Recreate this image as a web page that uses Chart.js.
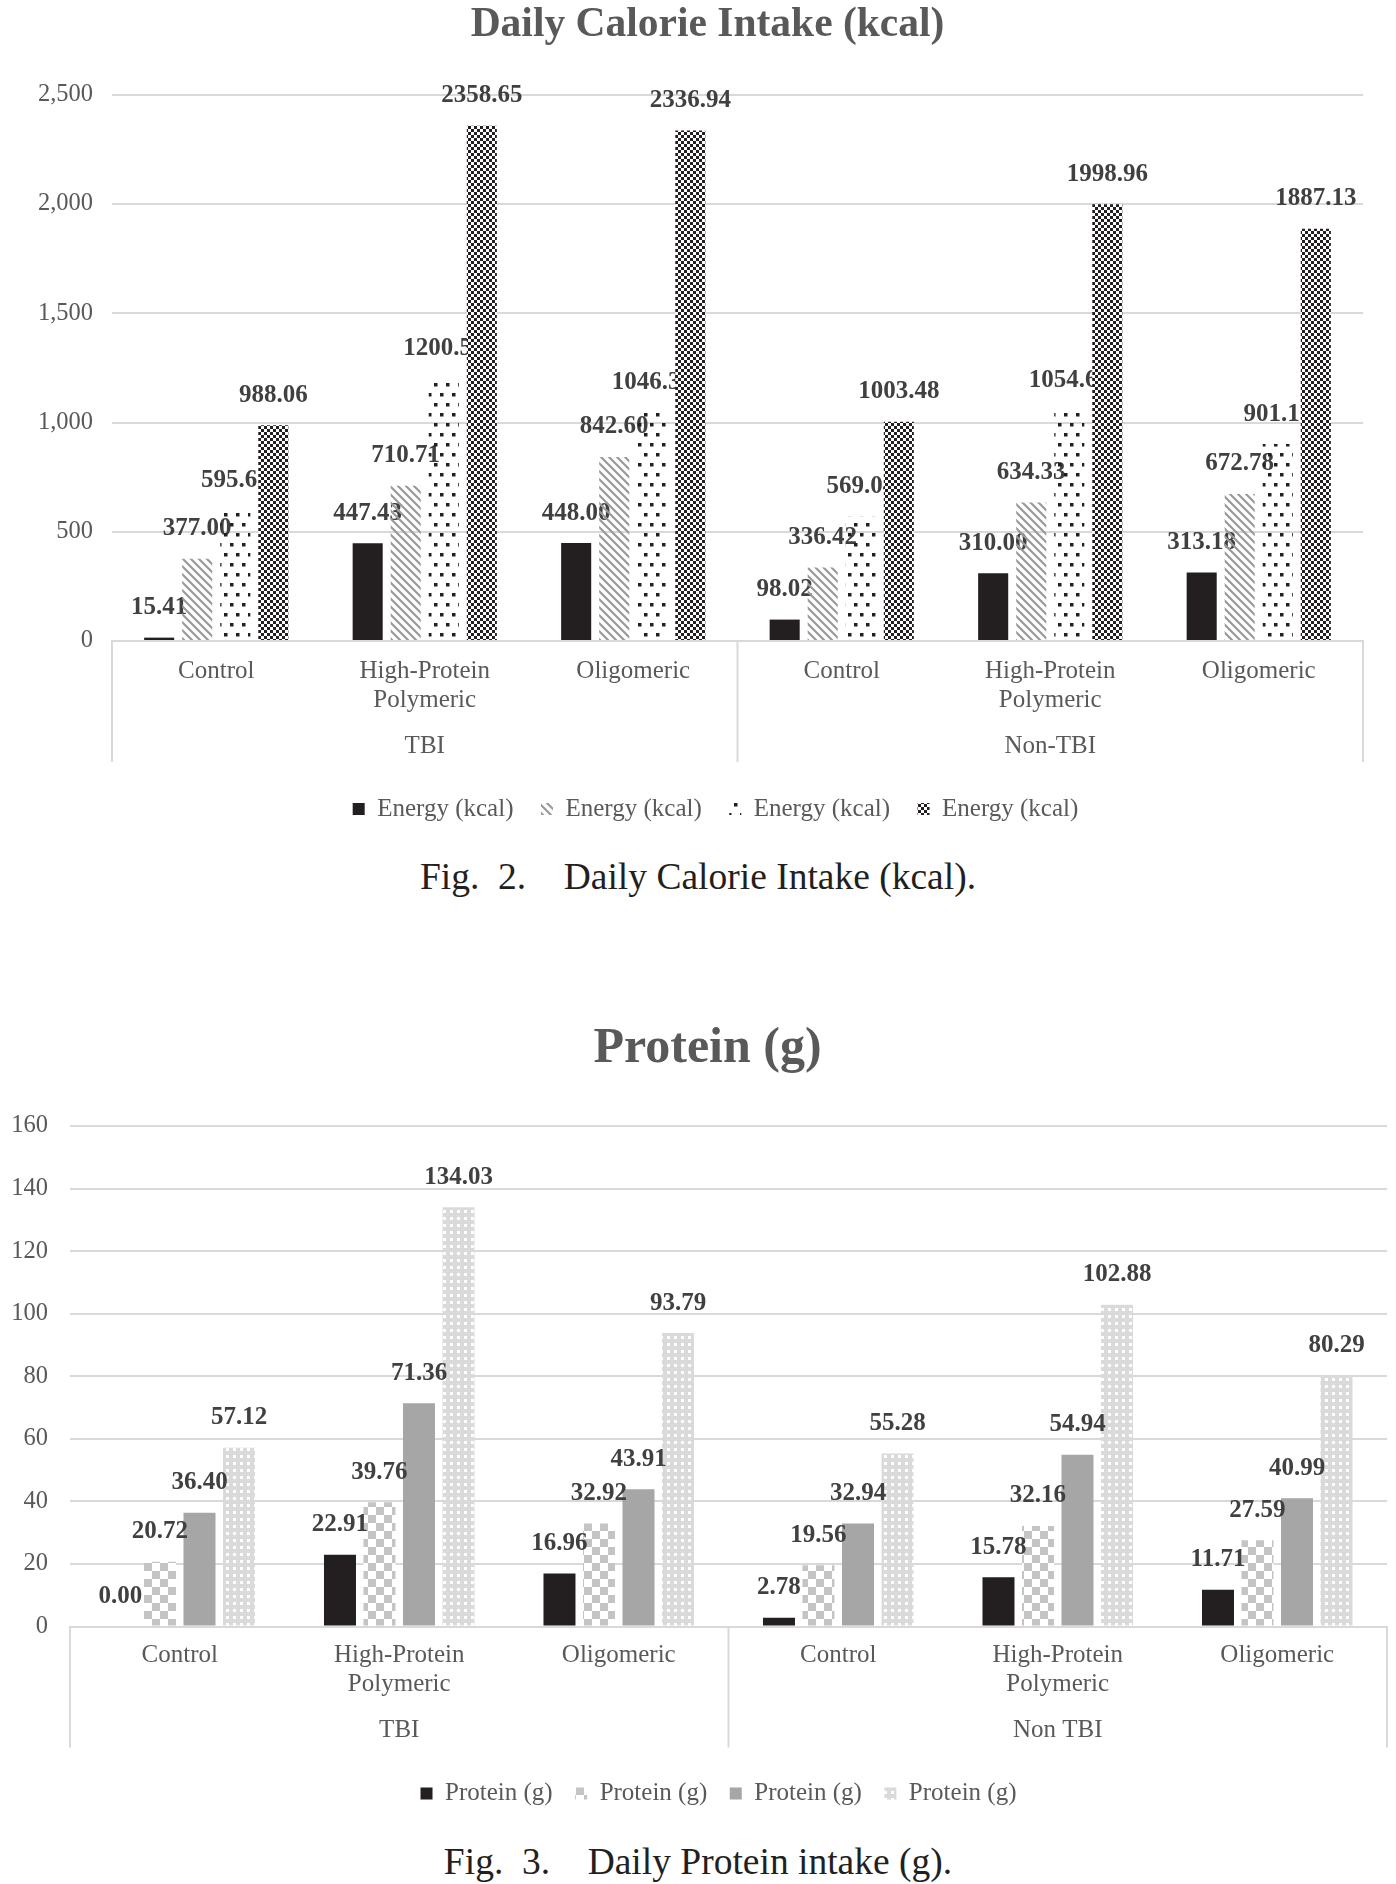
<!DOCTYPE html>
<html>
<head>
<meta charset="utf-8">
<script src="https://cdn.jsdelivr.net/npm/chart.js@4.4.1/dist/chart.umd.min.js"></script>
<style>
  body { margin: 0; background: #fff; width: 1396px; height: 1884px; position: relative; overflow: hidden; }
  .wrap { position: absolute; left: 0; width: 1396px; }
  .caption { position: absolute; left: 0; width: 1396px; text-align: center; white-space: pre;
    font-family: 'Liberation Serif', serif; font-size: 37.5px; line-height: 40px; color: #231f20; }
</style>
</head>
<body>
<div class="wrap" style="top:0px;height:840px"><canvas id="calChart" width="1396" height="840"></canvas></div>
<div class="caption" style="top:857px">Fig.  2.    Daily Calorie Intake (kcal).</div>
<div class="wrap" style="top:1019px;height:800px"><canvas id="protChart" width="1396" height="800"></canvas></div>
<div class="caption" style="top:1842px">Fig.  3.    Daily Protein intake (g).</div>
<script>
// Categories / groups
const categories = [['Control'], ['High-Protein', 'Polymeric'], ['Oligomeric'],
                    ['Control'], ['High-Protein', 'Polymeric'], ['Oligomeric']];
const calGroups = ['TBI', 'Non-TBI'];
const protGroups = ['TBI', 'Non TBI'];

// Daily calorie intake (kcal), four series
const energy1 = [15.41, 447.43, 448.00, 98.02, 310.00, 313.18];
const energy2 = [377.00, 710.71, 842.60, 336.42, 634.33, 672.78];
const energy3 = [595.65, 1200.51, 1046.34, 569.04, 1054.63, 901.17];
const energy4 = [988.06, 2358.65, 2336.94, 1003.48, 1998.96, 1887.13];

// Daily protein intake (g), four series
const protein1 = [0.00, 22.91, 16.96, 2.78, 15.78, 11.71];
const protein2 = [20.72, 39.76, 32.92, 19.56, 32.16, 27.59];
const protein3 = [36.40, 71.36, 43.91, 32.94, 54.94, 40.99];
const protein4 = [57.12, 134.03, 93.79, 55.28, 102.88, 80.29];

const calTicks = { min: 0, max: 2500, step: 500 };
const protTicks = { min: 0, max: 160, step: 20 };

const SERIF = "'Liberation Serif', 'Times New Roman', serif";
const GRID = '#d9d9d9';
const TEXT = '#595959';
const BLACK = '#231f20';

// Pattern helper
function makePattern(w, h, draw) {
  const c = document.createElement('canvas');
  c.width = w; c.height = h;
  const g = c.getContext('2d');
  draw(g, w, h);
  return g.createPattern(c, 'repeat');
}

const diagPattern = makePattern(8, 8, (g, w, h) => {
  g.strokeStyle = '#999';
  g.lineWidth = 2.2;
  g.beginPath();
  g.moveTo(-2, -2); g.lineTo(w + 2, h + 2);
  g.moveTo(w - 2, -2); g.lineTo(w + 2, 2);
  g.moveTo(-2, h - 2); g.lineTo(2, h + 2);
  g.stroke();
});
const dotPattern = makePattern(12, 20, (g) => {
  g.fillStyle = BLACK;
  g.fillRect(2, 3, 3.5, 3.5);
  g.fillRect(8, 13, 3.5, 3.5);
});
const fineChecker = makePattern(6, 6, (g) => {
  g.fillStyle = '#fff'; g.fillRect(0, 0, 6, 6);
  g.fillStyle = BLACK;
  g.fillRect(0, 0, 3, 3); g.fillRect(3, 3, 3, 3);
});
const bigChecker = makePattern(16, 16, (g) => {
  g.fillStyle = '#fff'; g.fillRect(0, 0, 16, 16);
  g.fillStyle = '#c4c4c4';
  g.fillRect(0, 0, 8, 8); g.fillRect(8, 8, 8, 8);
});
const whiteDots = makePattern(7, 7, (g) => {
  g.fillStyle = '#dadada'; g.fillRect(0, 0, 7, 7);
  g.fillStyle = '#fff';
  g.fillRect(2, 2, 3, 3);
});

// Draw series left to right with their value labels.
// In the calorie chart the next series covers earlier labels; in the protein chart labels sit on top.
const seriesWithLabels = {
  id: 'seriesWithLabels',
  beforeDatasetsDraw(chart, args, opts) {
    const ctx = chart.ctx;
    const metas = chart.getSortedVisibleDatasetMetas();
    const drawLabels = (meta) => {
      const data = chart.data.datasets[meta.index].data;
      ctx.save();
      ctx.font = 'bold 25px ' + SERIF;
      ctx.fillStyle = '#404040';
      ctx.textAlign = 'center';
      ctx.textBaseline = 'middle';
      meta.data.forEach((bar, i) => {
        ctx.fillText(data[i].toFixed(2), bar.x, bar.y - 30);
      });
      ctx.restore();
    };
    if (opts.onTop) {
      metas.forEach(m => m.controller.draw());
      metas.forEach(drawLabels);
    } else {
      metas.forEach(m => { m.controller.draw(); drawLabels(m); });
    }
    return false;
  }
};

// box lines around the two-level category axis
const groupLines = {
  id: 'groupLines',
  afterDraw(chart) {
    const x = chart.scales.x, x2 = chart.scales.x2, area = chart.chartArea;
    const mid = (x.getPixelForValue(2) + x.getPixelForValue(3)) / 2;
    const ctx = chart.ctx;
    ctx.save();
    ctx.strokeStyle = GRID;
    ctx.lineWidth = 2;
    ctx.beginPath();
    [area.left, mid, area.right].forEach(px => {
      ctx.moveTo(px, area.bottom);
      ctx.lineTo(px, x2.bottom);
    });
    ctx.stroke();
    ctx.restore();
  }
};

// the original centres title and legend a bit right of the canvas middle
const boxShift = {
  id: 'boxShift',
  afterLayout(chart, args, opts) {
    const t = chart.titleBlock, l = chart.legend;
    if (t) { t.left += opts.title; t.right += opts.title; }
    if (l) { l.left += opts.legend; l.right += opts.legend; }
  }
};

function buildChart(id, cfg) {
  const datasets = cfg.series.map((s, i) => ({
    label: cfg.seriesLabel,
    data: s,
    backgroundColor: cfg.fills[i],
    borderWidth: 0,
    categoryPercentage: cfg.catPct,
    barPercentage: cfg.barPct
  }));
  const tickFont = { family: SERIF, size: 25, lineHeight: 1.16 };
  return new Chart(document.getElementById(id), {
    type: 'bar',
    data: { labels: categories, datasets: datasets },
    options: {
      responsive: false,
      animation: false,
      layout: { padding: cfg.padding },
      plugins: {
        boxShift: cfg.shift,
        seriesWithLabels: { onTop: cfg.labelsOnTop },
        title: {
          display: true,
          text: cfg.title,
          color: TEXT,
          font: { family: SERIF, size: cfg.titleSize, weight: 'bold', lineHeight: 1.2 },
          padding: { top: 0, bottom: cfg.titleGap }
        },
        legend: {
          position: 'bottom',
          title: { display: true, text: '', padding: { top: cfg.legendTop, bottom: 0 }, font: { size: 1 } },
          labels: {
            boxWidth: 12, boxHeight: 12,
            padding: cfg.legendPad,
            color: TEXT,
            font: { family: SERIF, size: 25 }
          }
        },
        tooltip: { enabled: false }
      },
      scales: {
        x: {
          grid: { display: false, drawTicks: false },
          border: { display: true, color: GRID, width: 2 },
          ticks: { color: TEXT, font: tickFont, padding: cfg.xPad, maxRotation: 0, autoSkip: false }
        },
        x2: {
          type: 'category',
          labels: cfg.groups,
          position: 'bottom',
          offset: true,
          grid: { display: false, drawTicks: false },
          border: { display: false },
          ticks: { color: TEXT, font: tickFont, padding: cfg.x2Pad, maxRotation: 0 }
        },
        y: {
          min: cfg.ticks.min,
          max: cfg.ticks.max,
          afterFit: (s) => { s.width = cfg.axisWidth; },
          grid: { color: GRID, lineWidth: 2, drawTicks: false },
          border: { display: false },
          ticks: {
            stepSize: cfg.ticks.step,
            padding: cfg.yPad,
            color: TEXT,
            font: { family: SERIF, size: 24.5 },
            callback: (v) => v.toLocaleString('en-US')
          }
        }
      }
    },
    plugins: [seriesWithLabels, groupLines, boxShift]
  });
}

buildChart('calChart', {
  title: 'Daily Calorie Intake (kcal)',
  titleSize: 41.5, titleGap: 45,
  seriesLabel: 'Energy (kcal)',
  series: [energy1, energy2, energy3, energy4],
  fills: [BLACK, diagPattern, dotPattern, fineChecker],
  groups: calGroups,
  ticks: calTicks,
  catPct: 0.73, barPct: 0.79,
  padding: { left: 0, right: 33, top: 0, bottom: 8.5 },
  axisWidth: 112, yPad: 19,
  xPad: 15.5, x2Pad: 1.5,
  legendTop: 5.8, legendPad: 27.5,
  shift: { title: 26, legend: 34 },
  labelsOnTop: false
});

buildChart('protChart', {
  title: 'Protein (g)',
  titleSize: 50, titleGap: 47,
  seriesLabel: 'Protein (g)',
  series: [protein1, protein2, protein3, protein4],
  fills: [BLACK, bigChecker, '#a6a6a6', whiteDots],
  groups: protGroups,
  ticks: protTicks,
  catPct: 0.72, barPct: 0.81,
  padding: { left: 0, right: 9, top: 0, bottom: 3 },
  axisWidth: 70, yPad: 22,
  xPad: 14.5, x2Pad: 2.5,
  legendTop: 9.8, legendPad: 22.5,
  shift: { title: 14, legend: 25 },
  labelsOnTop: true
});
</script>
</body>
</html>
